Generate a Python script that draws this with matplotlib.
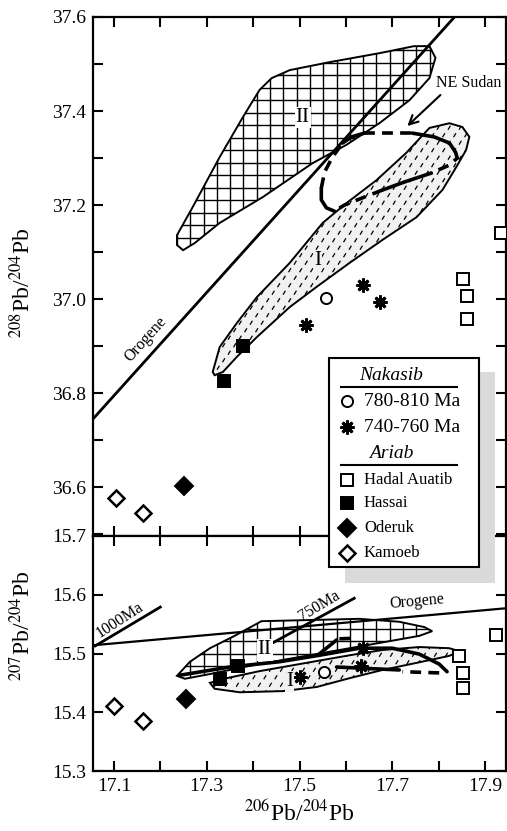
import numpy as np
import matplotlib
matplotlib.use("Agg")
import matplotlib.pyplot as plt
from matplotlib.patches import Polygon, Rectangle
from matplotlib.collections import LineCollection

plt.rcParams['font.family'] = ['Liberation Serif', 'DejaVu Serif']
plt.rcParams['mathtext.fontset'] = 'stix'

# ---- data ----
# Nakasib 780-810 Ma (open circle)
nak1_x_top = [17.558]
nak1_208 = [37.002]
nak1_x_bot = [17.552]
nak1_207 = [15.469]
# Nakasib 740-760 Ma (asterisk)
nak2_x_top = [17.515, 17.636, 17.674]
nak2_208 = [36.945, 37.030, 36.994]
nak2_x_bot = [17.502, 17.636, 17.633]
nak2_207 = [15.460, 15.509, 15.479]
# Ariab - Hadal Auatib (open square)
hadal_x_top = [17.853, 17.861, 17.861, 17.935]
hadal_208 = [37.043, 37.006, 36.957, 37.140]
hadal_x_bot = [17.924, 17.844, 17.853, 17.853]
hadal_207 = [15.532, 15.496, 15.467, 15.441]
# Ariab - Hassai (filled square)
hassai_x_top = [17.337, 17.378]
hassai_208 = [36.826, 36.900]
hassai_x_bot = [17.328, 17.367]
hassai_207 = [15.457, 15.479]
# Ariab - Oderuk (filled diamond)
oderuk_x_top = [17.251]
oderuk_208 = [36.602]
oderuk_x_bot = [17.255]
oderuk_207 = [15.423]
# Ariab - Kamoeb (open diamond)
kamoeb_x_top = [17.104, 17.163]
kamoeb_208 = [36.577, 36.545]
kamoeb_x_bot = [17.100, 17.163]
kamoeb_207 = [15.411, 15.385]

# reference lines
orogene_top_x = [17.055, 17.834]
orogene_top_y = [36.745, 37.600]
orogene_bot_x = [17.055, 17.945]
orogene_bot_y = [15.514, 15.577]
ma1000_x = [17.060, 17.200]
ma1000_y = [15.513, 15.579]
ma750_x = [17.442, 17.618]
ma750_y = [15.518, 15.594]

# field outlines (206Pb/204Pb, 208Pb/204Pb)
fieldII_top_x = [17.236, 17.270, 17.328, 17.378, 17.414, 17.440, 17.479, 17.565, 17.672, 17.747,
                 17.780, 17.793, 17.780, 17.737, 17.672, 17.601, 17.528, 17.421, 17.328, 17.274,
                 17.249, 17.236]
fieldII_top_y = [37.136, 37.196, 37.302, 37.387, 37.445, 37.470, 37.487, 37.504, 37.523, 37.538,
                 37.538, 37.513, 37.470, 37.423, 37.374, 37.328, 37.289, 37.217, 37.162, 37.119,
                 37.104, 37.115]
fieldI_top_x = [17.313, 17.328, 17.365, 17.408, 17.479, 17.550, 17.601, 17.666, 17.730, 17.780,
                17.823, 17.851, 17.866, 17.859, 17.838, 17.808, 17.752, 17.679, 17.608, 17.537,
                17.479, 17.408, 17.365, 17.335, 17.317]
fieldI_top_y = [36.845, 36.898, 36.949, 37.004, 37.077, 37.162, 37.204, 37.253, 37.311, 37.364,
                37.374, 37.366, 37.345, 37.317, 37.281, 37.232, 37.174, 37.126, 37.077, 37.026,
                36.983, 36.919, 36.877, 36.845, 36.838]
# field outlines (206Pb/204Pb, 207Pb/204Pb)
fieldII_bot_x = [17.236, 17.264, 17.307, 17.360, 17.418, 17.629, 17.715, 17.769, 17.786, 17.758,
                 17.694, 17.608, 17.500, 17.393, 17.307, 17.253]
fieldII_bot_y = [15.462, 15.486, 15.509, 15.530, 15.555, 15.559, 15.554, 15.545, 15.538, 15.530,
                 15.521, 15.509, 15.494, 15.479, 15.465, 15.457]
fieldI_bot_x = [17.307, 17.343, 17.414, 17.500, 17.608, 17.679, 17.758, 17.823, 17.844, 17.823,
                17.752, 17.679, 17.608, 17.537, 17.464, 17.371, 17.317]
fieldI_bot_y = [15.450, 15.458, 15.470, 15.482, 15.497, 15.506, 15.511, 15.509, 15.504, 15.496,
                15.484, 15.472, 15.458, 15.443, 15.436, 15.434, 15.440]

# NE Sudan trend, pieces: (x, y, dashed)
sudan_top = [
    ([17.593, 17.612, 17.640], [37.332, 37.345, 37.353], False),
    ([17.640, 17.743], [37.353, 37.353], True),
    ([17.743, 17.790, 17.823, 17.836], [37.353, 37.345, 37.332, 37.313], False),
    ([17.836, 17.840, 17.823, 17.784], [37.313, 37.300, 37.285, 37.268], True),
    ([17.784, 17.726, 17.679], [37.268, 37.249, 37.232], False),
    ([17.679, 17.640, 17.597, 17.575], [37.232, 37.217, 37.200, 37.187], True),
    ([17.575, 17.558, 17.547, 17.547], [37.187, 37.194, 37.211, 37.236], False),
    ([17.547, 17.554, 17.571, 17.593], [37.236, 37.270, 37.302, 37.332], True),
]
sudan_bot = [
    ([17.242, 17.350, 17.457, 17.543, 17.629, 17.700, 17.758, 17.801, 17.818],
     [15.463, 15.477, 15.486, 15.497, 15.509, 15.509, 15.499, 15.482, 15.469], False),
    ([17.801, 17.722], [15.467, 15.469], True),
    ([17.715, 17.580], [15.472, 15.477], False),
    ([17.539, 17.580], [15.497, 15.523], False),
    ([17.586, 17.621], [15.525, 15.526], True),
]

xlim = (17.055, 17.945)
px_x = 0.89 / 413  # data units per pixel along x


def textured_field(ax, xs, ys, kind, px_y, z):
    patch = Polygon(np.column_stack([xs, ys]), closed=True, facecolor='white' if kind == 'grid' else '#f1f1f1',
                    edgecolor='black', lw=1.4, zorder=z)
    ax.add_patch(patch)
    x0, x1 = min(xs), max(xs)
    y0, y1 = min(ys), max(ys)
    segs = []
    if kind == 'grid':
        for gx in np.arange(x0, x1, 13.3 * px_x):
            segs.append([(gx, y0), (gx, y1)])
        for gy in np.arange(y0, y1, 12.5 * px_y):
            segs.append([(x0, gy), (x1, gy)])
        lw = 1.0
    else:
        dx, dy = 1.2 * px_x, 2.0 * px_y
        for i, cy in enumerate(np.arange(y0, y1, 7.5 * px_y)):
            off = (i % 2) * 5.5 * px_x
            for cx in np.arange(x0 + off, x1, 11 * px_x):
                segs.append([(cx - dx, cy - dy), (cx + dx, cy + dy)])
        lw = 0.9
    lc = LineCollection(segs, colors='black', lw=lw, zorder=z)
    lc.set_clip_path(patch)
    ax.add_collection(lc)


def draw_points(ax, groups):
    for xs, ys, mk, fc, ms, mew in groups:
        ax.plot(xs, ys, ls='none', marker=mk, mfc=fc, mec='black', ms=ms, mew=mew, zorder=6)


def draw_sudan(ax, pieces):
    for xs, ys, dashed in pieces:
        ax.plot(xs, ys, color='black', lw=2.6, ls=(0, (3, 2)) if dashed else '-',
                solid_capstyle='round', zorder=5)


fig = plt.figure(figsize=(5.07, 8.31), dpi=100)
ax1 = fig.add_axes([93 / 507, 295 / 831, 413 / 507, 519 / 831])
ax2 = fig.add_axes([93 / 507, 60 / 831, 413 / 507, 235 / 831])

# ---- top panel: 208Pb/204Pb ----
textured_field(ax1, fieldII_top_x, fieldII_top_y, 'grid', 1.104 / 519, 2)
textured_field(ax1, fieldI_top_x, fieldI_top_y, 'dash', 1.104 / 519, 2)
ax1.plot(orogene_top_x, orogene_top_y, color='black', lw=2.0, zorder=4)
draw_sudan(ax1, sudan_top)
draw_points(ax1, [
    (nak1_x_top, nak1_208, 'o', 'white', 8, 1.4),
    (nak2_x_top, nak2_208, (8, 2, 0), 'black', 10, 2.0),
    (hadal_x_top, hadal_208, 's', 'white', 9, 1.4),
    (hassai_x_top, hassai_208, 's', 'black', 9, 1.4),
    (oderuk_x_top, oderuk_208, 'D', 'black', 9, 1.4),
    (kamoeb_x_top, kamoeb_208, 'D', 'white', 8, 1.8),
])
ax1.text(17.507, 37.387, 'II', fontsize=15, ha='center', va='center', zorder=7,
         bbox=dict(boxstyle='square,pad=0.05', fc='white', ec='none'))
ax1.text(17.539, 37.083, 'I', fontsize=15, ha='center', va='center', zorder=7,
         bbox=dict(boxstyle='square,pad=0.05', fc='#f1f1f1', ec='none'))
ax1.text(17.168, 36.915, 'Orogene', fontsize=11.5, rotation=48, ha='center', va='center')
ax1.text(17.795, 37.460, 'NE Sudan', fontsize=11.5, ha='left', va='center')
ax1.annotate('', xy=(17.728, 37.364), xytext=(17.808, 37.438),
             arrowprops=dict(arrowstyle='->', lw=1.5, color='black', mutation_scale=16))

ax1.set_xlim(xlim)
ax1.set_ylim(36.496, 37.6)
ax1.set_xticks(np.arange(17.1, 17.95, 0.1))
ax1.set_xticklabels([])
top_yticks = [36.5, 36.6, 36.7, 36.8, 36.9, 37.0, 37.1, 37.2, 37.3, 37.4, 37.5, 37.6]
ax1.set_yticks(top_yticks)
ax1.set_yticklabels(['', '36.6', '', '36.8', '', '37.0', '', '37.2', '', '37.4', '', '37.6'])
ax1.set_ylabel(r'$^{208}$Pb/$^{204}$Pb', fontsize=17)
ax1.yaxis.set_label_coords(-0.14, 0.487)

# ---- bottom panel: 207Pb/204Pb ----
textured_field(ax2, fieldII_bot_x, fieldII_bot_y, 'grid', 0.4 / 235, 2)
textured_field(ax2, fieldI_bot_x, fieldI_bot_y, 'dash', 0.4 / 235, 3)
ax2.plot(orogene_bot_x, orogene_bot_y, color='black', lw=1.6, zorder=4)
ax2.plot(ma1000_x, ma1000_y, color='black', lw=2.0, zorder=4)
ax2.plot(ma750_x, ma750_y, color='black', lw=2.0, zorder=4)
draw_sudan(ax2, sudan_bot)
draw_points(ax2, [
    (nak1_x_bot, nak1_207, 'o', 'white', 8, 1.4),
    (nak2_x_bot, nak2_207, (8, 2, 0), 'black', 10, 2.0),
    (hadal_x_bot, hadal_207, 's', 'white', 9, 1.4),
    (hassai_x_bot, hassai_207, 's', 'black', 9, 1.4),
    (oderuk_x_bot, oderuk_207, 'D', 'black', 9, 1.4),
    (kamoeb_x_bot, kamoeb_207, 'D', 'white', 8, 1.8),
])
ax2.text(17.425, 15.506, 'II', fontsize=15, ha='center', va='center', zorder=7,
         bbox=dict(boxstyle='square,pad=0.05', fc='white', ec='none'))
ax2.text(17.478, 15.452, 'I', fontsize=15, ha='center', va='center', zorder=7,
         bbox=dict(boxstyle='square,pad=0.05', fc='#f1f1f1', ec='none'))
ax2.text(17.754, 15.588, 'Orogene', fontsize=11.5, rotation=5, ha='center', va='center')
ax2.text(17.113, 15.556, '1000Ma', fontsize=11.5, rotation=33, ha='center', va='center')
ax2.text(17.543, 15.581, '750Ma', fontsize=11.5, rotation=31, ha='center', va='center')

ax2.set_xlim(xlim)
ax2.set_ylim(15.3, 15.7)
ax2.set_xticks(np.arange(17.1, 17.95, 0.1))
ax2.set_xticklabels(['17.1', '', '17.3', '', '17.5', '', '17.7', '', '17.9'])
ax2.set_yticks([15.3, 15.4, 15.5, 15.6, 15.7])
ax2.set_yticklabels(['15.3', '15.4', '15.5', '15.6', '15.7'])
ax2.set_ylabel(r'$^{207}$Pb/$^{204}$Pb', fontsize=17)
ax2.yaxis.set_label_coords(-0.14, 0.617)
ax2.set_xlabel(r'$^{206}$Pb/$^{204}$Pb', fontsize=17, labelpad=4)

for ax in (ax1, ax2):
    for s in ax.spines.values():
        s.set_linewidth(1.6)
    ax.tick_params(direction='in', length=7, width=1.5, labelsize=14,
                   top=True, right=True, pad=5)

# ---- legend box spanning both panels (figure pixel space) ----
lg = fig.add_axes([0, 0, 1, 1], zorder=10)
lg.set_xlim(0, 507)
lg.set_ylim(831, 0)
lg.axis('off')
lg.patch.set_alpha(0)
lg.add_patch(Rectangle((345, 372), 150, 211, fc='#dadada', ec='none'))
lg.add_patch(Rectangle((329, 358), 150, 209, fc='white', ec='black', lw=1.5))
lg.text(391, 375, 'Nakasib', fontsize=14, style='italic', ha='center', va='center')
lg.plot([341, 457], [387, 387], color='black', lw=1.5)
lg.text(391, 454, 'Ariab', fontsize=14, style='italic', ha='center', va='center')
lg.plot([341, 457], [465, 465], color='black', lw=1.5)
legend_rows = [
    (401, 'o', 'white', 8, 1.4, '780-810 Ma', 14),
    (427, (8, 2, 0), 'black', 10, 2.0, '740-760 Ma', 14),
    (480, 's', 'white', 9, 1.4, 'Hadal Auatib', 12),
    (503, 's', 'black', 9, 1.4, 'Hassai', 12),
    (528, 'D', 'black', 9, 1.4, 'Oderuk', 12),
    (553, 'D', 'white', 8, 1.8, 'Kamoeb', 12),
]
for yy, mk, fc, ms, mew, lab, fs in legend_rows:
    lg.plot([347], [yy], ls='none', marker=mk, mfc=fc, mec='black', ms=ms, mew=mew)
    lg.text(364, yy, lab, fontsize=fs, ha='left', va='center')

fig.savefig('out.png', dpi=100)
